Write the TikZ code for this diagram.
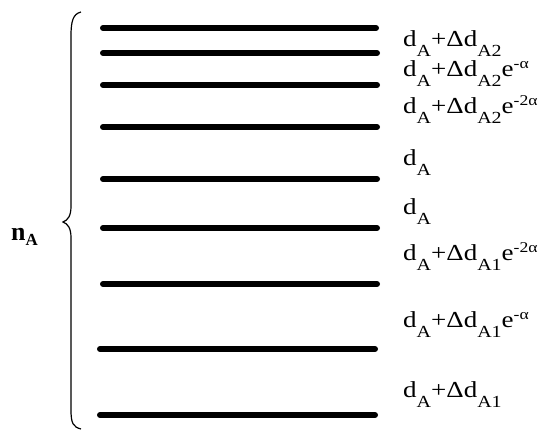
\documentclass[tikz,border=0pt]{standalone}
\usepackage{fontspec}
\setmainfont{Liberation Serif}
\newfontfamily\labfont[FakeStretch=1.18]{Liberation Serif}
\newcommand\lo[1]{\raisebox{-10.5bp}{\fontsize{17}{17}\selectfont #1}}
\newcommand\hi[1]{\raisebox{8bp}{\fontsize{15}{15}\selectfont #1}}
\begin{document}
\begin{tikzpicture}[x=1bp,y=-1bp,
  level/.style={line width=6bp,line cap=round},
  lab/.style={anchor=base west,inner sep=0pt,font=\labfont\fontsize{23}{23}\selectfont},
  brace/.style={line width=1.2bp}]
\useasboundingbox (0,0) rectangle (549,431);
% energy levels
\foreach \i/\xa/\xb/\y in {1/103/376/28,2/103/377/53,3/103/377/85,4/103/377/127,5/103/377/179,6/103/377/228,7/103/377/284,8/100/375/349,9/100/375/415}{
  \coordinate (l\i a) at (\xa,\y);
  \coordinate (l\i b) at (\xb,\y);
  \draw[level] (l\i a) -- (l\i b);
}
% labels
\node[lab] (t1) at (403,46) {d\lo{A}+Δd\lo{A2}};
\node[lab] (t2) at (403,76) {d\lo{A}+Δd\lo{A2}e\hi{-α}};
\node[lab] (t3) at (403,113) {d\lo{A}+Δd\lo{A2}e\hi{-2α}};
\node[lab] (t4) at (403,165) {d\lo{A}};
\node[lab] (t5) at (403,214) {d\lo{A}};
\node[lab] (t6) at (403,260) {d\lo{A}+Δd\lo{A1}e\hi{-2α}};
\node[lab] (t7) at (403,327) {d\lo{A}+Δd\lo{A1}e\hi{-α}};
\node[lab] (t8) at (403,397) {d\lo{A}+Δd\lo{A1}};
% brace
\coordinate (bt) at (81,12);
\coordinate (bm) at (63,222);
\coordinate (bb) at (81,429);
\draw[brace] (bt) .. controls (73,14) and (71,21) .. (71,36) -- (71,206)
  .. controls (71,216) and (68,220) .. (bm)
  .. controls (68,224) and (71,228) .. (71,238) -- (71,410)
  .. controls (71,423) and (73,427) .. (bb);
\node[anchor=base west,inner sep=0pt,font=\bfseries\fontsize{26}{26}\selectfont] (n) at (11,240) {n\raisebox{-5bp}{\fontsize{17}{17}\selectfont\bfseries A}};
\end{tikzpicture}
\end{document}
